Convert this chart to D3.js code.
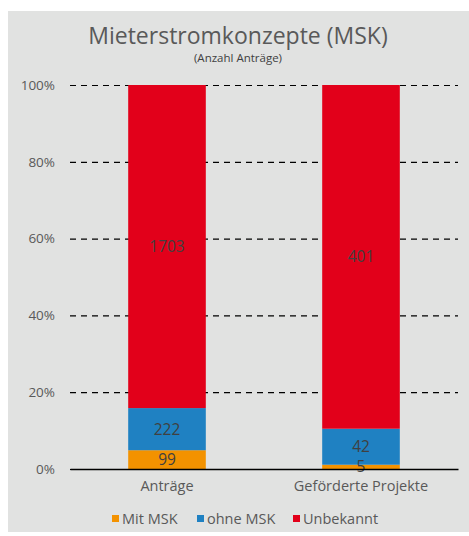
<!DOCTYPE html>
<html>
<head>
<meta charset="utf-8">
<script src="https://cdn.jsdelivr.net/npm/d3@7"></script>
<style>
  body { margin: 0; background: #fff; }
  text { font-family: "Open Sans", "Noto Sans", sans-serif; }
</style>
</head>
<body>
<div id="chart"></div>
<script>
// data
var categories = ["Anträge", "Geförderte Projekte"];
var seriesNames = ["Mit MSK", "ohne MSK", "Unbekannt"];
var mitMSK = [99, 5];
var ohneMSK = [222, 42];
var unbekannt = [1703, 401];
var yTicks = [0, 0.2, 0.4, 0.6, 0.8, 1];
var colors = ["#F39200", "#1F81C2", "#E2001A"];

var W = 469, H = 536;
var margin = { top: 85, right: 11, bottom: 67, left: 70 };
var width = W - margin.left - margin.right;
var height = H - margin.top - margin.bottom;

var svg = d3.select("#chart")
  .append("svg")
  .attr("width", W)
  .attr("height", H);

// grey panel
svg.append("rect")
  .attr("x", 8).attr("y", 11)
  .attr("width", W - 8).attr("height", 521)
  .attr("fill", "#E1E2E1");

svg.append("text")
  .attr("x", 238).attr("y", 44)
  .attr("text-anchor", "middle")
  .attr("font-size", 23)
  .attr("fill", "#595959")
  .text("Mieterstromkonzepte (MSK)");

svg.append("text")
  .attr("x", 238).attr("y", 62)
  .attr("text-anchor", "middle")
  .attr("font-size", 11.5)
  .attr("fill", "#404040")
  .text("(Anzahl Anträge)");

var g = svg.append("g")
  .attr("transform", "translate(" + margin.left + "," + margin.top + ")");

// build table for stacking
var table = categories.map(function (c, i) {
  var total = mitMSK[i] + ohneMSK[i] + unbekannt[i];
  return {
    cat: c,
    raw: [mitMSK[i], ohneMSK[i], unbekannt[i]],
    "Mit MSK": mitMSK[i] / total,
    "ohne MSK": ohneMSK[i] / total,
    "Unbekannt": unbekannt[i] / total
  };
});

var x = d3.scaleBand().domain(categories).range([0, width]).paddingInner(0.6).paddingOuter(0.3);
var y = d3.scaleLinear().domain([0, 1]).range([height, 0]);

// Y axis with dashed gridlines
var yAxis = g.append("g")
  .call(d3.axisLeft(y).tickValues(yTicks).tickFormat(d3.format(".0%")).tickSize(-width).tickPadding(15));
yAxis.select(".domain").remove();
yAxis.selectAll(".tick line")
  .attr("stroke", "#000")
  .attr("stroke-dasharray", "6,5")
  .attr("stroke-width", 1.2);
yAxis.selectAll(".tick text")
  .attr("font-size", 13.5)
  .attr("fill", "#595959");

var stack = d3.stack().keys(seriesNames)(table);

var layers = g.selectAll(".layer")
  .data(stack)
  .enter().append("g")
  .attr("fill", function (d, i) { return colors[i]; });

layers.selectAll("rect")
  .data(function (d) { return d; })
  .enter().append("rect")
  .attr("x", function (d) { return x(d.data.cat); })
  .attr("width", x.bandwidth())
  .attr("y", function (d) { return y(d[1]); })
  .attr("height", function (d) { return y(d[0]) - y(d[1]); });

// value labels
stack.forEach(function (layer, k) {
  g.selectAll(".lbl" + k)
    .data(layer)
    .enter().append("text")
    .attr("x", function (d) { return x(d.data.cat) + x.bandwidth() / 2; })
    .attr("y", function (d) { return (y(d[0]) + y(d[1])) / 2; })
    .attr("dy", "0.35em")
    .attr("text-anchor", "middle")
    .attr("font-size", 15.5)
    .attr("fill", "#404040")
    .text(function (d) { return d.data.raw[k]; });
});

// x axis
var xAxis = g.append("g")
  .attr("transform", "translate(0," + height + ")")
  .call(d3.axisBottom(x).tickSize(0).tickPadding(12));
xAxis.select(".domain").attr("stroke", "#000").attr("stroke-width", 1.5);
xAxis.selectAll(".tick text").attr("font-size", 14.5).attr("fill", "#595959");

// legend
var legendX = [112, 197, 293];
var legend = svg.append("g").attr("transform", "translate(0,519)");
seriesNames.forEach(function (s, i) {
  legend.append("rect")
    .attr("x", legendX[i]).attr("y", -4)
    .attr("width", 7).attr("height", 7)
    .attr("fill", colors[i]);
  legend.append("text")
    .attr("x", legendX[i] + 10).attr("y", 0)
    .attr("dy", "0.35em")
    .attr("font-size", 14.5)
    .attr("fill", "#595959")
    .text(s);
});
</script>
</body>
</html>
